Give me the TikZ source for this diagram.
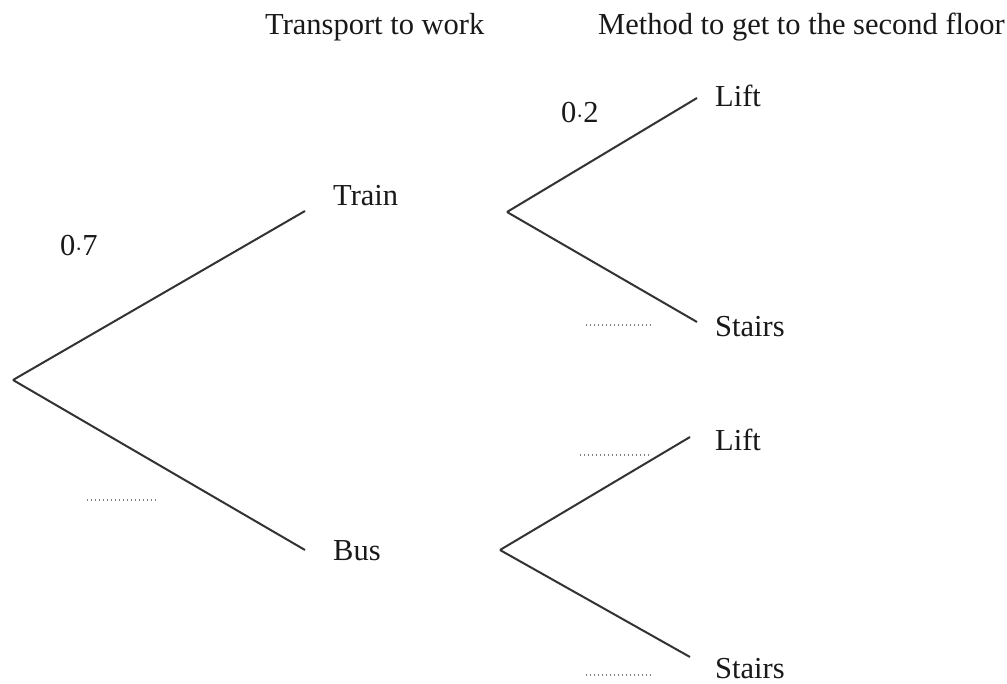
\documentclass[tikz,border=0pt]{standalone}
\usepackage{fontspec}
\setmainfont{Liberation Serif}
\begin{document}
\begin{tikzpicture}[x=1pt,y=-1pt,
  lab/.style={font=\fontsize{30.5}{36}\selectfont, text=black!90, inner sep=0pt, anchor=base west},
  branch/.style={draw=black!80, line width=2pt},
  blank/.style={draw=black!50, line width=1.4pt, dash pattern=on 1.4pt off 2.6pt}]
\useasboundingbox[fill=white] (0,0) rectangle (1007,684);
% headers
\node[lab] (h1) at (265,35) {Transport to work};
\node[lab] (h2) at (598,35) {Method to get to the second floor};
% first level
\coordinate (root) at (13,380);
\coordinate (tE) at (305,211);
\coordinate (bE) at (305,550);
\draw[branch] (root) -- (tE);
\draw[branch] (root) -- (bE);
\node[lab] (train) at (333,206) {Train};
\node[lab] (bus) at (333,560) {Bus};
\node[lab] (p07) at (60,256) {0$\cdot$7};
\coordinate (d1a) at (87,500); \coordinate (d1b) at (157,500);
\draw[blank] (d1a) -- (d1b);
% second level, train
\coordinate (tS) at (507,212);
\coordinate (tL) at (697,98);
\coordinate (tT) at (697,322);
\draw[branch] (tS) -- (tL);
\draw[branch] (tS) -- (tT);
\node[lab] (lift1) at (715,107) {Lift};
\node[lab] (stairs1) at (715,337) {Stairs};
\node[lab] (p02) at (561,123) {0$\cdot$2};
\coordinate (d2a) at (586,325); \coordinate (d2b) at (653,325);
\draw[blank] (d2a) -- (d2b);
% second level, bus
\coordinate (bS) at (500,550);
\coordinate (bL) at (690,437);
\coordinate (bT) at (690,657);
\draw[branch] (bS) -- (bL);
\draw[branch] (bS) -- (bT);
\node[lab] (lift2) at (715,450) {Lift};
\node[lab] (stairs2) at (715,678) {Stairs};
\coordinate (d3a) at (580,455); \coordinate (d3b) at (650,455);
\draw[blank] (d3a) -- (d3b);
\coordinate (d4a) at (586,675); \coordinate (d4b) at (653,675);
\draw[blank] (d4a) -- (d4b);
\end{tikzpicture}
\end{document}
